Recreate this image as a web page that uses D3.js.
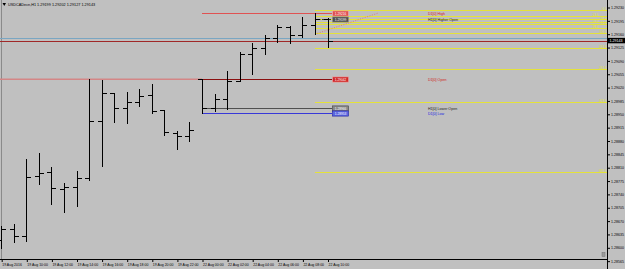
<!DOCTYPE html>
<html><head><meta charset="utf-8">
<script src="https://cdn.jsdelivr.net/npm/d3@7"></script>
<style>html,body{margin:0;padding:0;background:#c0c0c0;overflow:hidden}svg{display:block}</style>
</head><body><svg id="c" width="625" height="269"></svg>
<script>
// ---------- data ----------
const symbol = "USDCADecn,H1";
const timeLabels = ["19 Aug 2016","19 Aug 10:00","19 Aug 12:00","19 Aug 14:00","19 Aug 16:00","19 Aug 18:00","19 Aug 20:00","19 Aug 22:00","22 Aug 00:00","22 Aug 02:00","22 Aug 04:00","22 Aug 06:00","22 Aug 08:00","22 Aug 10:00"];
const opens  = [1.28620,1.28649,1.28632,1.28788,1.28798,1.28753,1.28759,1.28782,1.28932,1.29005,1.28966,1.28983,1.29001,1.28961,1.28902,1.28892,1.29042,1.28966,1.28991,1.29037,1.29107,1.29123,1.29151,1.29178,1.29158,1.29185,1.29199];
const highs  = [1.28658,1.28662,1.28833,1.28848,1.28813,1.28769,1.28801,1.29043,1.29040,1.29007,1.29008,1.29017,1.29029,1.28961,1.28906,1.28930,1.29042,1.29003,1.29064,1.29113,1.29136,1.29158,1.29185,1.29182,1.29206,1.29216,1.29202];
const lows   = [1.28599,1.28615,1.28618,1.28767,1.28715,1.28695,1.28710,1.28778,1.28815,1.28931,1.28926,1.28973,1.28954,1.28896,1.28858,1.28881,1.28953,1.28959,1.28963,1.29036,1.29056,1.29107,1.29140,1.29138,1.29153,1.29160,1.29127];
const closes = [1.28649,1.28632,1.28785,1.28795,1.28756,1.28759,1.28782,1.28932,1.29005,1.28966,1.28983,1.28999,1.28959,1.28904,1.28892,1.28910,1.28966,1.28991,1.29037,1.29107,1.29123,1.29151,1.29178,1.29158,1.29185,1.29199,1.29143];
const yTicks = [1.29230,1.29195,1.29160,1.29125,1.29090,1.29055,1.29020,1.28985,1.28950,1.28915,1.28880,1.28845,1.28810,1.28775,1.28740,1.28705,1.28670,1.28635,1.28600,1.28565];
const levelNames  = ["D1[0] High","H1[0] Higher Open","D1[0] Open","H1[0] Lower Open","D1[0] Low"];
const levelPrices = [1.29216,1.29199,1.29042,1.28966,1.28953];
const levelStartBar = [16,25,16,16,16];
const fibLabels = ["0.0","23.6","38.2","50.0","61.8","76.4","100.0","161.8","261.8","423.6","685.4"];
const fibPrices = [1.29223,1.29209,1.29200,1.29193,1.29186,1.29176,1.29163,1.29123,1.29068,1.28981,1.28798];
const fibStartBar = 25;
const trendBars = [25,30];
const trendPrices = [1.29160,1.29215];
const askPrice = 1.29150, bidPrice = 1.29143;

// ---------- layout ----------
const W = 625, H = 269, axisX = 607.5, axisY = 259.5;
const svg = d3.select("#c");
const x = d3.scaleLinear().domain([0, 26]).range([1.2, 327.5]);
const y = d3.scaleLinear().domain([1.28565, 1.29230]).range([261.15, 7.5]);
const px = v => Math.round(v) + 0.5;
const font = "'Liberation Sans', Arial, sans-serif";
const fmt = d3.format(".5f");

svg.append("rect").attr("width", W).attr("height", H).attr("fill", "#c0c0c0");
svg.append("line").attr("x1",1.5).attr("x2",1.5).attr("y1",0).attr("y2",axisY).attr("stroke","#8a8a8a");

// full width price lines
svg.append("line").attr("x1",0).attr("x2",axisX).attr("y1",px(y(askPrice))).attr("y2",px(y(askPrice)))
  .attr("stroke","#7aa6c2").attr("stroke-width",1);
svg.append("line").attr("x1",0).attr("x2",W).attr("y1",px(y(bidPrice))).attr("y2",px(y(bidPrice)))
  .attr("stroke","#a02828").attr("stroke-width",1);

// D1 Open previous extension (pink)
svg.append("line").attr("x1",0).attr("x2",x(16)).attr("y1",y(levelPrices[2])).attr("y2",y(levelPrices[2]))
  .attr("stroke","#d48686").attr("stroke-width",1.6);

// fib lines
const fibG = svg.append("g");
fibPrices.forEach((p,i)=>{
  const yy = px(y(p));
  const crowded = i >= 1 && i <= 5 && (i % 2 === 1);
  fibG.append("line").attr("x1",x(fibStartBar)).attr("x2",axisX-0.5).attr("y1",yy).attr("y2",yy)
    .attr("stroke","#e4e23a").attr("stroke-width",1);
  fibG.append("text").attr("x",crowded ? 598 : 606).attr("y",yy-0.5).attr("text-anchor","end")
    .attr("font-family",font).attr("font-size",2.8).attr("fill","#e2e040").text(fibLabels[i]);
});

// level lines
const levelStyle = [
  {line:"#e05252", box:"#e05050", boxStroke:"#f0b0b0", txt:"#d82020", dash:null},
  {line:"#303030", box:"#505050", boxStroke:"#909090", txt:"#202020", dash:"2,1.5"},
  {line:"#8a1010", box:"#d02828", boxStroke:"#f0a0a0", txt:"#d01818", dash:null},
  {line:"#505050", box:"#8a8a8a", boxStroke:"#404040", txt:"#202020", dash:null},
  {line:"#3838d8", box:"#5a66e0", boxStroke:"#2020a0", txt:"#2020e0", dash:null}
];
levelPrices.forEach((p,i)=>{
  const yy = px(y(p)), s = levelStyle[i];
  svg.append("line").attr("x1",x(levelStartBar[i])).attr("x2",332).attr("y1",yy).attr("y2",yy)
    .attr("stroke",s.line).attr("stroke-width",1).attr("stroke-dasharray",s.dash);
  svg.append("rect").attr("x",332.5).attr("y",yy-2.6).attr("width",16).attr("height",5.2)
    .attr("fill",s.box).attr("stroke",s.boxStroke).attr("stroke-width",0.6);
  svg.append("text").attr("x",340.5).attr("y",yy+1.1).attr("text-anchor","middle")
    .attr("font-family",font).attr("font-size",3.2).attr("fill","#ffffff").text(fmt(p));
  svg.append("text").attr("x",428).attr("y",yy+1.2)
    .attr("font-family",font).attr("font-size",3.6).attr("fill",s.txt).text(levelNames[i]);
});
svg.append("line").attr("x1",px(x(16))).attr("x2",px(x(16))).attr("y1",px(y(levelPrices[2]))).attr("y2",px(y(levelPrices[4])))
  .attr("stroke","#000");

// trend dotted line
svg.append("line").attr("x1",x(trendBars[0])).attr("y1",y(trendPrices[0])).attr("x2",x(trendBars[1])).attr("y2",y(trendPrices[1]))
  .attr("stroke","#e07a7a").attr("stroke-width",1).attr("stroke-dasharray","1,1.5");

// OHLC bars
const bars = svg.append("g").attr("shape-rendering","crispEdges");
opens.forEach((o,i)=>{
  const xx = px(x(i));
  bars.append("line").attr("x1",xx).attr("x2",xx).attr("y1",Math.round(y(highs[i]))).attr("y2",Math.round(y(lows[i]))+1).attr("stroke","#000");
  bars.append("line").attr("x1",xx-4.5).attr("x2",xx).attr("y1",px(y(o))).attr("y2",px(y(o))).attr("stroke","#000");
  bars.append("line").attr("x1",xx).attr("x2",xx+4.5).attr("y1",px(y(closes[i]))).attr("y2",px(y(closes[i]))).attr("stroke","#000");
});

// right axis
const ra = svg.append("g").attr("transform",`translate(${axisX},0)`)
  .call(d3.axisRight(y).tickValues(yTicks).tickSize(2.5).tickPadding(1).tickFormat(fmt));
ra.select(".domain").remove();
ra.selectAll("line").attr("stroke","#000");
ra.selectAll("text").attr("font-family",font).attr("font-size",3.6).attr("fill","#000");
svg.append("line").attr("x1",axisX).attr("x2",axisX).attr("y1",0).attr("y2",H).attr("stroke","#000");

// current price box
svg.append("rect").attr("x",axisX+0.5).attr("y",y(bidPrice)-2.8).attr("width",W-axisX).attr("height",5.4).attr("fill","#000");
svg.append("text").attr("x",axisX+2).attr("y",y(bidPrice)+1.3).attr("font-family",font).attr("font-size",3.6).attr("fill","#fff").text(fmt(bidPrice));

// bottom axis
const ba = svg.append("g").attr("transform",`translate(0,${axisY})`)
  .call(d3.axisBottom(x).tickValues(d3.range(0,27,2)).tickSize(2.5).tickPadding(1.5).tickFormat((d,i)=>timeLabels[i]));
ba.select(".domain").remove();
ba.selectAll("line").attr("stroke","#000").attr("transform","translate(0.5,0)");
ba.selectAll("text").attr("text-anchor","start").attr("dx",0.5).attr("font-family",font).attr("font-size",3.5).attr("fill","#000");
svg.append("line").attr("x1",0).attr("x2",axisX).attr("y1",axisY).attr("y2",axisY).attr("stroke","#000");

// small scroll marker
svg.append("rect").attr("x",602).attr("y",252.5).attr("width",3).attr("height",4).attr("fill","#9a9a9a").attr("stroke","#707070").attr("stroke-width",0.5);

// title
svg.append("path").attr("d","M2.5,3 L6,3 L4.25,6 Z").attr("fill","#000");
const last = opens.length-1;
svg.append("text").attr("x",8).attr("y",6.3).attr("font-family",font).attr("font-size",3.8).attr("fill","#000")
  .text(`${symbol}  ${fmt(opens[last])} ${fmt(highs[last])} ${fmt(lows[last])} ${fmt(closes[last])}`);
</script></body></html>
